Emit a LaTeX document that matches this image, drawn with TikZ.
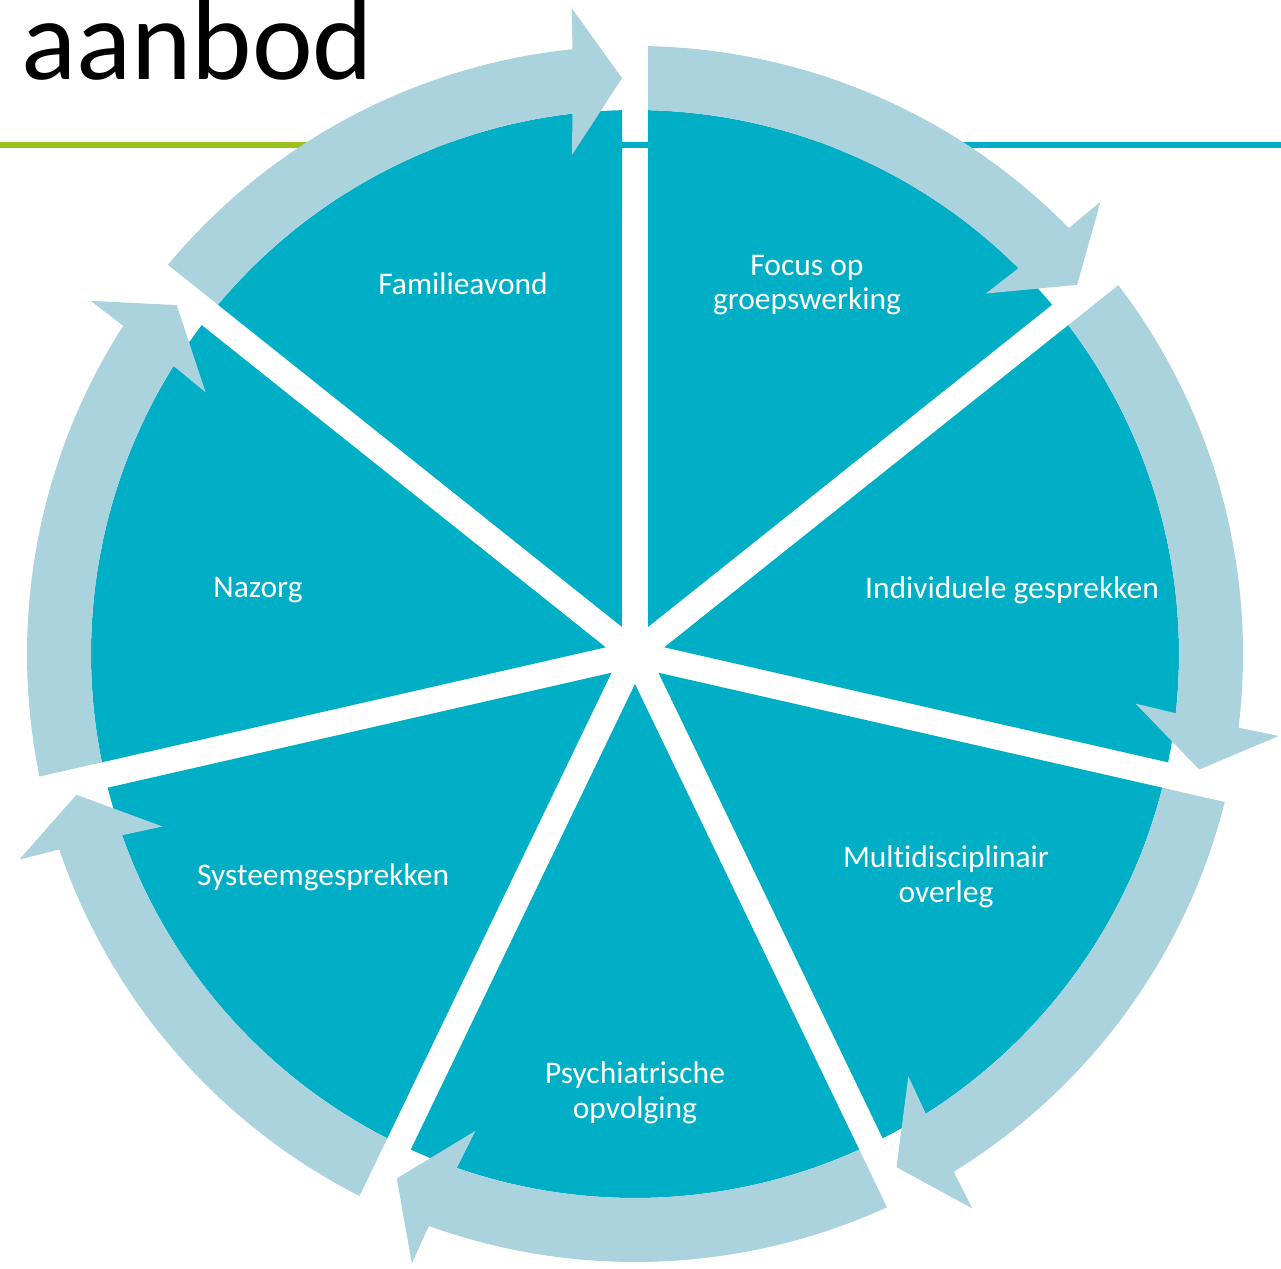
\documentclass[tikz,border=0pt]{standalone}
\usepackage{fontspec}
\setmainfont{Carlito}[Ligatures=NoCommon]
\usetikzlibrary{calc}

\definecolor{wedgeteal}{HTML}{00AEC5}
\definecolor{ringblue}{HTML}{ABD3DE}
\definecolor{rulegreen}{HTML}{99C21F}

\tikzset{
  wedge/.style={fill=wedgeteal, draw=none},
  ringarrow/.style={fill=ringblue, draw=none},
  steplabel/.style={text=white, align=center, inner sep=0pt,
    font=\fontsize{31.5}{34.5}\selectfont},
}

\begin{document}
\begin{tikzpicture}[x=1pt,y=1pt]
  \useasboundingbox (-635,-614) rectangle (646,654);

  % title with the two rules behind the cycle
  \node[anchor=base west, inner sep=0pt, font=\fontsize{115}{118}\selectfont] (title) at (-614,574) {aanbod};
  \draw[rulegreen, line width=6pt] (-635,509) -- (-150,509);
  \draw[wedgeteal, line width=6pt] (-150,509) -- (646,509);

  % seven wedges, each with its arrow, clockwise from the top
  \foreach \k in {0,...,6} {
    \pgfmathsetmacro\ah{90-\k*360/7}
    \pgfmathsetmacro\al{\ah-360/7}
    \pgfmathsetmacro\bis{\ah-180/7}
    \fill[wedge] (\bis:30) -- (\al+1.37:544)
      arc[start angle=\al+1.37, end angle=\ah-1.37, radius=544] -- cycle;
    \fill[ringarrow] (\ah-1.23:608)
      arc[start angle=\ah-1.23, end angle=\al+5.9, radius=608]
      -- (\al+5.6:649) -- (\al+1.29:576) -- (\al+7.2:503) -- (\al+6.6:544)
      arc[start angle=\al+6.6, end angle=\ah-1.37, radius=544] -- cycle;
  }

  % labels
  \foreach \name/\pos/\txt in {
      famil/{-172,370}/Familieavond,
      focus/{172,369}/{Focus op\\groepswerking},
      indiv/{377,64}/Individuele gesprekken,
      multi/{311,-223}/{Multidisciplinair\\overleg},
      psych/{0,-439}/{Psychiatrische\\opvolging},
      systm/{-312,-223}/Systeemgesprekken,
      nazorg/{-377,64}/Nazorg}
    \node[steplabel] (\name) at (\pos) {\txt};
\end{tikzpicture}
\end{document}
